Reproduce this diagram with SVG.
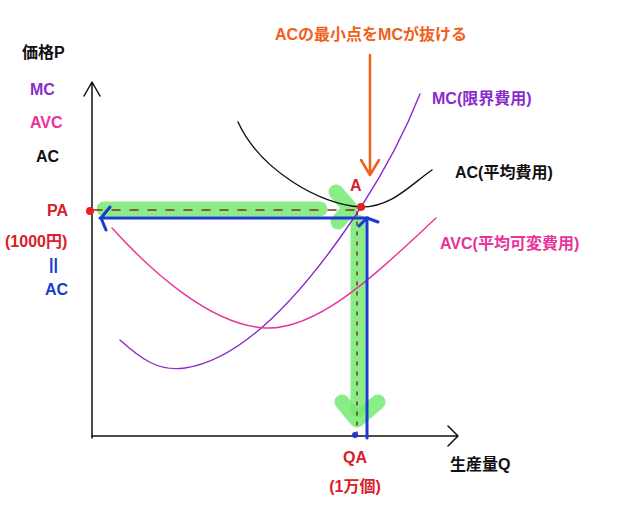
<svg xmlns="http://www.w3.org/2000/svg" width="620" height="508" viewBox="0 0 620 508">
<style>
text{font-family:"Liberation Sans","Noto Sans CJK JP",sans-serif;font-size:16px;font-weight:bold}
.k{fill:#111}.p{fill:#8a2ccc}.m{fill:#e8339a}.r{fill:#d8202a}.b{fill:#1a3ad0}.o{fill:#f06018}
.ln{fill:none;stroke-linecap:round;stroke-linejoin:round}
</style>
<rect width="620" height="508" fill="#fff"/>
<g id="axes" class="ln" stroke="#111" stroke-width="1.5">
<path d="M92,438V82M84,96L92,82L100,96"/>
<path d="M92,436H458M448,426L458,436L448,446"/>
</g>
<g id="highlight" class="ln" stroke="#6ee86a" stroke-opacity="0.8" stroke-width="15">
<path d="M104,209H320"/>
<path d="M336,192L350,208L338,222"/>
<path d="M358,222V410"/>
<path d="M342,402L357,420L378,402"/>
</g>
<g id="curves" class="ln" stroke-width="1.4">
<path stroke="#111" d="M238,122C260,170 320,205 361,207C392,207 410,185 432,170"/>
<path stroke="#8a2ccc" d="M120,340C140,358 158,372 185,368C240,360 300,300 361,207C385,170 405,132 420,94"/>
<path stroke="#e8339a" d="M112,228C150,270 210,325 265,328C320,330 380,270 436,218"/>
</g>
<g id="connectors" class="ln">
<path stroke="#7a3020" stroke-width="1.5" stroke-dasharray="8,10" d="M94,210H358"/>
<path stroke="#7a3020" stroke-width="1.5" stroke-dasharray="3,7" d="M357,212V434"/>
<path stroke="#1a3ad0" stroke-width="3" d="M368,218H100M110,207L101,218L106,230"/>
<path stroke="#1a3ad0" stroke-width="3" d="M367,438V218M359,226L367,218L378,222"/>
<path stroke="#f06018" stroke-width="2.5" d="M370,55V174M361,160L370,175L379,160"/>
</g>
<g id="points">
<circle cx="90" cy="211" r="4" fill="#e8201a"/>
<circle cx="361" cy="207" r="4" fill="#e8201a"/>
<circle cx="355" cy="435" r="3" fill="#1a3ad0"/>
</g>
<g id="labels">
<text class="o" x="371" y="40" text-anchor="middle">ACの最小点をMCが抜ける</text>
<text class="k" x="22" y="58">価格P</text>
<text class="p" x="30" y="95">MC</text>
<text class="m" x="30" y="128">AVC</text>
<text class="k" x="36" y="162">AC</text>
<text class="r" x="47" y="216">PA</text>
<text class="r" x="5" y="247">(1000円)</text>
<text class="b" x="49" y="270">||</text>
<text class="b" x="45" y="295">AC</text>
<text class="p" x="432" y="104">MC(限界費用)</text>
<text class="k" x="455" y="178">AC(平均費用)</text>
<text class="r" x="350" y="191">A</text>
<text class="m" x="440" y="249">AVC(平均可変費用)</text>
<text class="r" x="355" y="463" text-anchor="middle">QA</text>
<text class="r" x="355" y="492" text-anchor="middle">(1万個)</text>
<text class="k" x="450" y="470">生産量Q</text>
</g>
</svg>
